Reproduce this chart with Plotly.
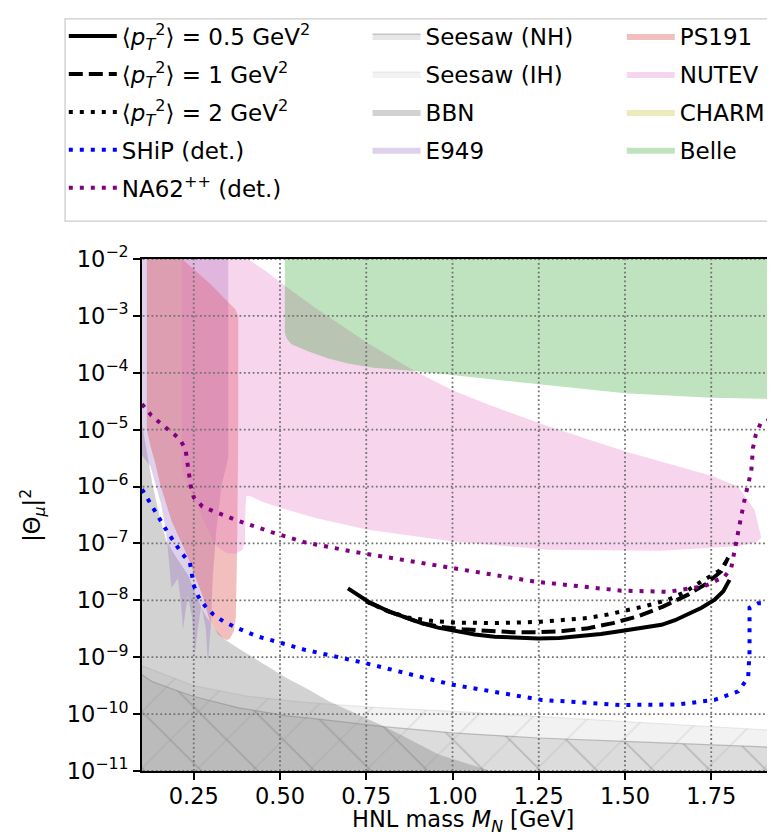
import numpy as np
import plotly.graph_objects as go

FONT = "DejaVu Sans"

X_TICKS = [0.25, 0.50, 0.75, 1.00, 1.25, 1.50, 1.75]
Y_EXPONENTS = [-2, -3, -4, -5, -6, -7, -8, -9, -10, -11]

# exclusion regions: outline in (HNL mass [GeV], log10 |Theta_mu|^2)
SEESAW_NH_M = [0.10, 0.13, 0.18, 0.25, 0.38, 0.52, 0.60, 0.80, 1.00, 1.25, 1.50, 1.75, 2.00, 2.00, 0.10]
SEESAW_NH_LOG = [-9.31, -9.43, -9.54, -9.69, -9.89, -10.03, -10.08, -10.22, -10.33, -10.42, -10.48, -10.54, -10.60, -12.0, -12.0]

SEESAW_IH_M = [0.10, 0.25, 0.40, 0.55, 0.65, 0.80, 1.00, 1.25, 1.50, 1.75, 2.00, 2.00, 0.10]
SEESAW_IH_LOG = [-9.15, -9.50, -9.68, -9.78, -9.83, -9.89, -9.95, -10.04, -10.12, -10.22, -10.31, -12.0, -12.0]

BBN_M = [0.10, 0.115, 0.13, 0.15, 0.17, 0.20, 0.233, 0.26, 0.282, 0.31, 0.34, 0.378, 0.44, 0.52, 0.58, 0.64, 0.81, 0.96, 1.10, 1.16, 1.16, 0.10]
BBN_LOG = [-4.90, -5.40, -5.95, -6.50, -6.95, -7.25, -7.55, -7.95, -8.25, -8.50, -8.69, -8.84, -9.07, -9.37, -9.56, -9.77, -10.24, -10.71, -10.98, -11.2, -12.0, -12.0]

E949_M = [0.10, 0.35, 0.35, 0.33, 0.315, 0.305, 0.30, 0.296, 0.291, 0.285, 0.272, 0.262, 0.253, 0.245, 0.233,
          0.226, 0.219, 0.212, 0.204, 0.195, 0.185, 0.178, 0.17, 0.155, 0.14, 0.125, 0.10]
E949_LOG = [-1.5, -1.5, -5.5, -6.0, -6.8, -7.6, -8.4, -8.72, -9.10, -8.5, -8.08, -8.5, -8.95, -8.3, -7.93,
            -8.2, -8.51, -8.0, -7.61, -7.7, -7.78, -7.3, -6.8, -6.3, -5.95, -5.65, -5.45]

PS191_M = [0.114, 0.20, 0.22, 0.30, 0.35, 0.37, 0.379, 0.379, 0.376, 0.372, 0.366, 0.355, 0.345, 0.33, 0.321,
           0.297, 0.278, 0.23, 0.186, 0.153, 0.139, 0.125, 0.114]
PS191_LOG = [-1.5, -1.5, -2.02, -2.45, -2.76, -2.88, -3.0, -5.0, -7.0, -8.3, -8.55, -8.67, -8.70, -8.64, -8.60,
             -8.37, -7.96, -7.20, -6.61, -5.97, -5.6, -5.3, -5.0]

NUTEV_M = [0.215, 0.36, 0.407, 0.46, 0.514, 0.60, 0.755, 0.89, 0.997, 1.10, 1.277, 1.499, 1.75, 1.828, 1.876,
           1.895, 1.88, 1.828, 1.60, 1.277, 1.10, 0.997, 0.755, 0.60, 0.523, 0.45, 0.415, 0.403, 0.40, 0.398,
           0.39, 0.37, 0.345, 0.316, 0.29, 0.25, 0.215]
NUTEV_LOG = [-1.5, -1.5, -2.0, -2.22, -2.47, -2.85, -3.48, -3.97, -4.30, -4.55, -4.94, -5.38, -5.81, -6.0, -6.41,
             -6.90, -6.98, -7.05, -7.13, -7.11, -7.02, -6.96, -6.76, -6.55, -6.41, -6.27, -6.17, -6.16, -6.35, -7.0,
             -7.12, -7.18, -7.17, -7.05, -6.75, -6.2, -5.7]

BELLE_M = [0.514, 0.514, 0.52, 0.533, 0.581, 0.64, 0.70, 0.77, 0.89, 1.00, 1.25, 1.50, 1.75, 2.00, 2.00]
BELLE_LOG = [-1.5, -3.30, -3.40, -3.50, -3.62, -3.75, -3.84, -3.91, -3.97, -4.04, -4.20, -4.36, -4.44, -4.47, -1.5]

# sensitivity curves
SOLID_M = [0.697, 0.755, 0.813, 0.860, 0.910, 0.958, 1.006, 1.065, 1.122, 1.185, 1.248, 1.31, 1.373, 1.43,
           1.489, 1.55, 1.586, 1.606, 1.645, 1.683, 1.722, 1.760, 1.785, 1.803]
SOLID_LOG = [-7.79, -8.02, -8.19, -8.30, -8.40, -8.48, -8.54, -8.60, -8.64, -8.66, -8.67, -8.66, -8.63, -8.59,
             -8.54, -8.49, -8.46, -8.43, -8.35, -8.25, -8.13, -7.99, -7.84, -7.64]

DASHED_M = [0.75, 0.813, 0.91, 0.958, 1.03, 1.10, 1.175, 1.248, 1.32, 1.393, 1.465, 1.538, 1.61, 1.683,
            1.735, 1.779, 1.799]
DASHED_LOG = [-8.02, -8.19, -8.40, -8.46, -8.51, -8.54, -8.56, -8.56, -8.54, -8.49, -8.40, -8.28, -8.11, -7.90,
              -7.71, -7.49, -7.25]

DOTTED_M = [0.75, 0.813, 0.87, 0.94, 1.003, 1.125, 1.248, 1.32, 1.393, 1.45, 1.499, 1.56, 1.625, 1.675,
            1.721, 1.779, 1.803]
DOTTED_LOG = [-8.02, -8.19, -8.30, -8.36, -8.39, -8.40, -8.38, -8.35, -8.31, -8.25, -8.19, -8.10, -7.99, -7.85,
              -7.67, -7.46, -7.22]

SHIP_M = [0.100, 0.138, 0.176, 0.215, 0.239, 0.244, 0.249, 0.263, 0.283, 0.307, 0.336, 0.370, 0.432, 0.504,
          0.572, 0.745, 0.997, 1.258, 1.489, 1.654, 1.760, 1.828, 1.857, 1.861, 1.861, 1.886, 1.99]
SHIP_LOG = [-6.05, -6.43, -6.82, -7.17, -7.34, -7.52, -7.72, -7.93, -8.10, -8.25, -8.37, -8.47, -8.63, -8.75,
            -8.87, -9.10, -9.48, -9.75, -9.84, -9.83, -9.75, -9.60, -9.36, -8.90, -8.13, -8.05, -8.05]

NA62_M = [0.100, 0.127, 0.154, 0.182, 0.209, 0.226, 0.232, 0.235, 0.241, 0.250, 0.275, 0.306, 0.340, 0.373,
          0.475, 0.572, 0.717, 0.997, 1.238, 1.489, 1.625, 1.731, 1.789, 1.808, 1.821, 1.835, 1.849, 1.866,
          1.871, 1.879, 1.893, 1.924, 1.99]
NA62_LOG = [-4.55, -4.75, -4.89, -5.02, -5.16, -5.34, -5.56, -5.76, -5.98, -6.19, -6.35, -6.43, -6.52, -6.59,
            -6.80, -6.98, -7.15, -7.43, -7.67, -7.83, -7.85, -7.75, -7.58, -7.43, -6.99, -6.58, -6.16, -5.73,
            -5.32, -5.09, -4.89, -4.81, -4.81]


def pow10(values):
    return 10.0 ** np.asarray(values, dtype=float)


def region(name, masses, logs, color, legend, pattern=None, edge=None):
    return go.Scatter(
        x=masses,
        y=pow10(logs),
        mode="lines",
        fill="toself",
        fillcolor=color,
        fillpattern=pattern,
        line={"width": 1.2 if edge else 0, "color": edge or color},
        name=name,
        legend=legend,
        legendgroup=name,
        hoverinfo="skip",
    )


def curve(name, masses, logs, color, dash, width=4.0):
    return go.Scatter(
        x=masses,
        y=pow10(logs),
        mode="lines",
        line={"color": color, "dash": dash, "width": width},
        name=name,
        legend="legend",
        legendgroup=name,
    )


fig = go.Figure()

fig.add_trace(region(
    "Seesaw (NH)", SEESAW_NH_M, SEESAW_NH_LOG, "rgba(127,127,127,0.19)", "legend2",
    pattern={"shape": "\\", "size": 40, "solidity": 0.04, "fgcolor": "rgba(100,100,100,0.32)",
             "bgcolor": "rgba(127,127,127,0.19)", "fillmode": "replace"},
    edge="rgba(110,110,110,0.4)",
))
fig.add_trace(region(
    "Seesaw (IH)", SEESAW_IH_M, SEESAW_IH_LOG, "rgba(127,127,127,0.10)", "legend2",
    pattern={"shape": "/", "size": 40, "solidity": 0.04, "fgcolor": "rgba(150,150,150,0.2)",
             "bgcolor": "rgba(127,127,127,0.10)", "fillmode": "replace"},
    edge="rgba(127,127,127,0.15)",
))
fig.add_trace(region("BBN", BBN_M, BBN_LOG, "rgba(127,127,127,0.35)", "legend2"))
fig.add_trace(region("E949", E949_M, E949_LOG, "rgba(148,103,189,0.3)", "legend2"))
fig.add_trace(region("PS191", PS191_M, PS191_LOG, "rgba(214,39,40,0.3)", "legend3"))
fig.add_trace(region("NUTEV", NUTEV_M, NUTEV_LOG, "rgba(227,119,194,0.3)", "legend3"))
fig.add_trace(region("CHARM", [None], [None], "rgba(188,189,34,0.3)", "legend3"))
fig.add_trace(region("Belle", BELLE_M, BELLE_LOG, "rgba(44,160,44,0.3)", "legend3"))

# grid drawn above the shaded regions but below the curves
grid_x, grid_y = [], []
for t in X_TICKS:
    grid_x += [t, t, None]
    grid_y += [1e-12, 1e-1, None]
for e in Y_EXPONENTS:
    grid_x += [0.0, 2.1, None]
    grid_y += [10.0 ** e, 10.0 ** e, None]
fig.add_trace(go.Scatter(
    x=grid_x, y=grid_y, mode="lines", showlegend=False, hoverinfo="skip",
    line={"color": "rgb(115,115,115)", "width": 1.8, "dash": "1.8px,2.6px"},
))

p2 = "⟨<i>p</i><sub><i>T</i></sub><sup>2</sup>⟩"
fig.add_trace(curve(f"{p2} = 0.5 GeV<sup>2</sup>", SOLID_M, SOLID_LOG, "black", "solid"))
fig.add_trace(curve(f"{p2} = 1 GeV<sup>2</sup>", DASHED_M, DASHED_LOG, "black", "14px,6px"))
fig.add_trace(curve(f"{p2} = 2 GeV<sup>2</sup>", DOTTED_M, DOTTED_LOG, "black", "4px,7px"))
fig.add_trace(curve("SHiP (det.)", SHIP_M, SHIP_LOG, "blue", "4px,7px"))
fig.add_trace(curve("NA62<sup>++</sup> (det.)", NA62_M, NA62_LOG, "purple", "4px,7px"))

legend_common = {
    "font": {"family": FONT, "size": 23, "color": "black"},
    "bgcolor": "rgba(0,0,0,0)",
    "borderwidth": 0,
    "itemwidth": 48,
    "tracegroupgap": 5,
    "xref": "container",
    "yref": "container",
    "xanchor": "left",
    "yanchor": "top",
    "traceorder": "grouped",
}

title_font = {"family": FONT, "size": 22.5, "color": "black"}

fig.update_layout(
    width=775,
    height=832,
    paper_bgcolor="white",
    plot_bgcolor="white",
    font={"family": FONT, "size": 22.5, "color": "black"},
    margin={"l": 134, "r": 0, "t": 251, "b": 69, "autoexpand": False},
    legend={**legend_common, "x": 0.072, "y": 0.992},
    legend2={**legend_common, "x": 0.464, "y": 0.992},
    legend3={**legend_common, "x": 0.792, "y": 0.992},
    shapes=[{
        "type": "rect", "xref": "paper", "yref": "paper",
        "x0": -0.12, "x1": 1.05, "y0": 1.074, "y1": 1.469,
        "line": {"color": "#cccccc", "width": 1.3}, "fillcolor": "white", "layer": "below",
    }],
    annotations=[
        {"text": "HNL mass <i>M</i><sub><i>N</i></sub> [GeV]", "xref": "paper", "yref": "paper",
         "x": 0.5, "y": -0.098, "xanchor": "center", "yanchor": "middle",
         "showarrow": False, "font": title_font},
        {"text": "|Θ<sub><i>μ</i></sub>|<sup>2</sup>", "xref": "paper", "yref": "paper",
         "x": -0.172, "y": 0.5, "xanchor": "center", "yanchor": "middle", "textangle": -90,
         "showarrow": False, "font": title_font},
    ],
)

fig.update_xaxes(
    range=[0.1, 1.958],
    tickvals=X_TICKS,
    ticktext=[f"{t:.2f}" for t in X_TICKS],
    ticks="outside", ticklen=7, tickwidth=1.6, tickcolor="black",
    showline=True, linecolor="black", linewidth=1.8, mirror=True,
    showgrid=False, zeroline=False, ticklabelstandoff=-3,
)
fig.update_yaxes(
    type="log",
    range=[-11, -2],
    tickvals=[10.0 ** e for e in Y_EXPONENTS],
    ticktext=[f"10<sup>−{-e}</sup>" for e in Y_EXPONENTS],
    ticks="outside", ticklen=7, tickwidth=1.6, tickcolor="black",
    showline=True, linecolor="black", linewidth=1.8, mirror=False,
    showgrid=False, zeroline=False,
)

fig.write_html("out.html")
